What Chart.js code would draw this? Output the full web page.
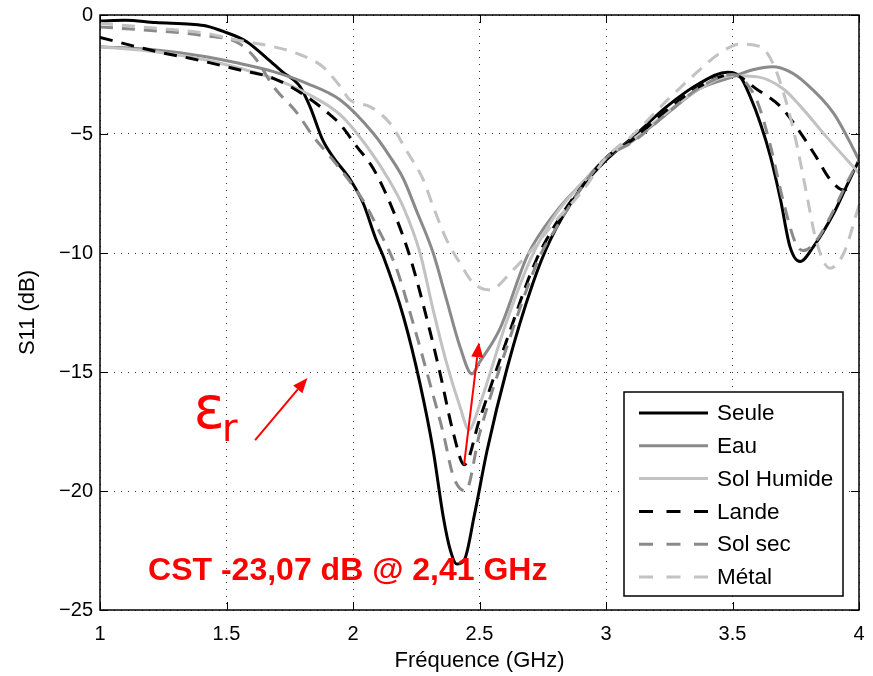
<!DOCTYPE html>
<html>
<head>
<meta charset="utf-8">
<title>S11</title>
<script src="https://cdn.jsdelivr.net/npm/chart.js@4.4.1/dist/chart.umd.min.js"></script>
<style>
  html, body { margin: 0; padding: 0; background: #fff; }
  #wrap { width: 873px; height: 676px; }
</style>
</head>
<body>
<div id="wrap"><canvas id="s11Chart" width="873" height="676"></canvas></div>
<script>
// Axis ticks
const xTicks = [1, 1.5, 2, 2.5, 3, 3.5, 4];
const xTickLabels = ['1', '1.5', '2', '2.5', '3', '3.5', '4'];
const yTicks = [-25, -20, -15, -10, -5, 0];
const yTickLabels = ['\u221225', '\u221220', '\u221215', '\u221210', '\u22125', '0'];

// S11 curves (GHz / dB)
const freqSeule = [1.0, 1.1, 1.22, 1.36, 1.42, 1.49, 1.58, 1.66, 1.72, 1.79, 1.83, 1.88, 1.92, 1.99, 2.04, 2.09, 2.12, 2.2, 2.265, 2.317, 2.357, 2.385, 2.41, 2.44, 2.48, 2.53, 2.61, 2.71, 2.78, 2.9, 3.0, 3.11, 3.24, 3.37, 3.48, 3.53, 3.57, 3.61, 3.65, 3.69, 3.727, 3.767, 3.82, 3.9, 3.95, 4.0];
const dbSeule = [-0.25, -0.22, -0.32, -0.39, -0.46, -0.7, -1.12, -1.82, -2.38, -3.0, -3.85, -5.25, -5.95, -6.93, -7.9, -9.4, -10.15, -12.7, -15.5, -18.3, -21.1, -22.5, -23.07, -22.9, -21.0, -18.3, -14.8, -11.3, -9.45, -7.3, -6.1, -5.1, -3.85, -2.87, -2.41, -2.59, -3.43, -4.55, -5.95, -7.77, -9.73, -10.36, -9.73, -8.33, -7.21, -6.1];

const freqEau = [1.0, 1.22, 1.42, 1.55, 1.685, 1.817, 1.95, 2.08, 2.146, 2.2, 2.25, 2.317, 2.37, 2.423, 2.47, 2.5, 2.58, 2.69, 2.8, 2.92, 3.0, 3.11, 3.24, 3.37, 3.5, 3.58, 3.66, 3.72, 3.79, 3.9, 3.98, 4.0];
const dbEau = [-1.33, -1.47, -1.75, -2.03, -2.38, -2.87, -3.57, -4.97, -5.95, -6.9, -8.2, -10.0, -11.97, -13.94, -15.08, -14.6, -13.2, -10.1, -8.3, -6.9, -6.0, -5.25, -4.15, -3.1, -2.6, -2.3, -2.17, -2.35, -2.87, -4.13, -5.67, -6.1];

const freqSolHumide = [1.0, 1.22, 1.42, 1.553, 1.685, 1.817, 1.95, 2.067, 2.146, 2.2, 2.265, 2.317, 2.37, 2.423, 2.458, 2.5, 2.6, 2.7, 2.8, 2.92, 3.0, 3.11, 3.24, 3.37, 3.5, 3.6, 3.7, 3.77, 3.87, 4.0];
const dbSolHumide = [-1.33, -1.54, -1.89, -2.24, -2.66, -3.29, -4.2, -5.7, -7.0, -8.1, -10.0, -12.4, -14.63, -16.46, -17.42, -16.4, -13.1, -10.3, -8.4, -6.9, -6.0, -5.2, -4.1, -3.1, -2.55, -2.6, -3.1, -3.85, -5.1, -6.65];

const freqLande = [1.0, 1.224, 1.356, 1.553, 1.685, 1.817, 1.91, 1.95, 2.015, 2.08, 2.16, 2.225, 2.29, 2.344, 2.397, 2.44, 2.5, 2.6, 2.72, 2.8, 2.92, 3.0, 3.11, 3.24, 3.37, 3.5, 3.6, 3.69, 3.77, 3.83, 3.885, 3.94, 3.97];
const dbLande = [-0.94, -1.54, -1.82, -2.31, -2.66, -3.43, -4.2, -4.6, -5.53, -6.45, -8.25, -10.15, -12.68, -15.05, -17.58, -18.9, -17.0, -13.9, -10.4, -8.8, -7.0, -6.0, -5.2, -4.0, -3.0, -2.5, -3.15, -3.85, -4.97, -5.95, -6.9, -7.35, -7.2];

const freqSolSec = [1.0, 1.2, 1.4, 1.55, 1.62, 1.685, 1.78, 1.843, 1.91, 2.04, 2.1, 2.17, 2.238, 2.304, 2.357, 2.397, 2.445, 2.5, 2.6, 2.74, 2.8, 2.92, 3.0, 3.11, 3.24, 3.37, 3.5, 3.55, 3.6, 3.65, 3.7, 3.75, 3.78, 3.83, 3.9, 3.95, 4.0];
const dbSolSec = [-0.5, -0.65, -0.85, -1.2, -1.9, -3.0, -4.13, -5.11, -5.95, -7.8, -9.0, -10.6, -12.96, -15.48, -17.58, -19.4, -20.0, -17.6, -14.2, -10.1, -9.0, -7.0, -6.0, -5.3, -4.15, -3.05, -2.5, -2.8, -3.7, -5.5, -7.8, -9.6, -9.9, -9.5, -8.2, -7.1, -6.1];

const freqMetal = [1.0, 1.224, 1.42, 1.54, 1.685, 1.777, 1.88, 1.95, 1.988, 2.067, 2.146, 2.21, 2.278, 2.317, 2.37, 2.423, 2.476, 2.54, 2.633, 2.706, 2.805, 2.91, 3.0, 3.11, 3.24, 3.37, 3.45, 3.53, 3.61, 3.66, 3.71, 3.75, 3.79, 3.83, 3.885, 3.94, 4.0];
const dbMetal = [-0.35, -0.56, -0.77, -1.05, -1.33, -1.61, -2.17, -3.01, -3.57, -3.85, -4.55, -5.67, -6.93, -8.05, -9.45, -10.43, -11.27, -11.55, -10.71, -9.87, -8.6, -7.35, -6.0, -5.0, -3.6, -2.31, -1.6, -1.22, -1.33, -2.03, -3.57, -5.25, -7.35, -9.45, -10.64, -10.0, -8.0];

const seriesNames = ['Seule', 'Eau', 'Sol Humide', 'Lande', 'Sol sec', 'M\u00e9tal'];
const seriesFreq = [freqSeule, freqEau, freqSolHumide, freqLande, freqSolSec, freqMetal];
const seriesDb = [dbSeule, dbEau, dbSolHumide, dbLande, dbSolSec, dbMetal];
const seriesColors = ['#000000', '#8a8a8a', '#c2c2c2', '#000000', '#8a8a8a', '#c2c2c2'];
const seriesDashed = [false, false, false, true, true, true];

// Annotations: arrows [x0, y0, x1, y1] in data units, and labels
const epsArrow = [1.613, -17.86, 1.82, -15.25];
const shiftArrow = [2.439, -18.9, 2.498, -13.75];
const cstLabel = { text: 'CST -23,07 dB @ 2,41 GHz', x: 1.19, y: -23.74 };
const epsLabel = { x: 1.37, y: -17.35 };

const FONT = 'Liberation Sans, Arial, Helvetica, sans-serif';

const datasets = seriesNames.map((name, i) => ({
  label: name,
  data: seriesFreq[i].map((f, k) => ({ x: f, y: seriesDb[i][k] })),
  borderColor: seriesColors[i],
  borderWidth: 3,
  borderDash: seriesDashed[i] ? [13, 9] : [],
  cubicInterpolationMode: 'monotone',
  pointRadius: 0,
  fill: false,
  order: seriesNames.length - i
}));

function drawArrow(ctx, x0, y0, x1, y1) {
  const ang = Math.atan2(y1 - y0, x1 - x0);
  const len = 15, half = 6;
  const bx = x1 - len * Math.cos(ang), by = y1 - len * Math.sin(ang);
  ctx.beginPath();
  ctx.moveTo(x0, y0);
  ctx.lineTo(bx, by);
  ctx.stroke();
  ctx.beginPath();
  ctx.moveTo(x1, y1);
  ctx.lineTo(bx + half * Math.sin(ang), by - half * Math.cos(ang));
  ctx.lineTo(bx - half * Math.sin(ang), by + half * Math.cos(ang));
  ctx.closePath();
  ctx.fill();
}

// box, inward ticks, red notes and the legend
const overlay = {
  id: 'overlay',
  afterDatasetsDraw(chart) {
    const { ctx, chartArea: a, scales: { x, y } } = chart;
    const tl = 8;
    ctx.save();
    ctx.strokeStyle = '#000';
    ctx.lineWidth = 1;
    ctx.setLineDash([]);
    ctx.beginPath();
    xTicks.forEach(v => {
      const px = Math.round(x.getPixelForValue(v)) + 0.5;
      ctx.moveTo(px, a.bottom); ctx.lineTo(px, a.bottom - tl);
      ctx.moveTo(px, a.top); ctx.lineTo(px, a.top + tl);
    });
    yTicks.forEach(v => {
      const py = Math.round(y.getPixelForValue(v)) + 0.5;
      ctx.moveTo(a.left, py); ctx.lineTo(a.left + tl, py);
      ctx.moveTo(a.right, py); ctx.lineTo(a.right - tl, py);
    });
    ctx.stroke();
    ctx.lineWidth = 1.5;
    ctx.strokeRect(a.left, a.top, a.right - a.left, a.bottom - a.top);

    // red annotations
    ctx.strokeStyle = '#ff0000';
    ctx.fillStyle = '#ff0000';
    ctx.lineWidth = 2;
    drawArrow(ctx, x.getPixelForValue(epsArrow[0]), y.getPixelForValue(epsArrow[1]),
      x.getPixelForValue(epsArrow[2]), y.getPixelForValue(epsArrow[3]));
    drawArrow(ctx, x.getPixelForValue(shiftArrow[0]), y.getPixelForValue(shiftArrow[1]),
      x.getPixelForValue(shiftArrow[2]), y.getPixelForValue(shiftArrow[3]));
    ctx.textBaseline = 'alphabetic';
    ctx.textAlign = 'left';
    ctx.font = 'bold 32px ' + FONT;
    ctx.fillText(cstLabel.text, x.getPixelForValue(cstLabel.x), y.getPixelForValue(cstLabel.y));
    const ex = x.getPixelForValue(epsLabel.x), ey = y.getPixelForValue(epsLabel.y);
    ctx.font = '58px DejaVu Sans, sans-serif';
    ctx.fillText('\u03b5', ex, ey);
    const ew = ctx.measureText('\u03b5').width;
    ctx.font = '38px DejaVu Sans, sans-serif';
    ctx.fillText('r', ex + ew - 3, ey + 13);

    // legend
    const lx = 624, ly = 392, lw = 219, lh = 204;
    ctx.fillStyle = '#fff';
    ctx.fillRect(lx, ly, lw, lh);
    ctx.strokeStyle = '#000';
    ctx.lineWidth = 1.5;
    ctx.strokeRect(lx, ly, lw, lh);
    ctx.font = '22.5px ' + FONT;
    ctx.textBaseline = 'middle';
    chart.data.datasets.forEach((ds, i) => {
      const rowY = ly + 21 + i * 32.8;
      ctx.strokeStyle = ds.borderColor;
      ctx.lineWidth = 3;
      ctx.setLineDash(ds.borderDash.length ? [14, 13.5] : []);
      ctx.beginPath();
      ctx.moveTo(lx + 15, rowY);
      ctx.lineTo(lx + 84, rowY);
      ctx.stroke();
      ctx.setLineDash([]);
      ctx.fillStyle = '#000';
      ctx.fillText(ds.label, lx + 93, rowY + 1);
    });
    ctx.restore();
  }
};

const tickFont = { family: FONT, size: 20 };
const titleFont = { family: FONT, size: 22 };

new Chart(document.getElementById('s11Chart'), {
  type: 'line',
  data: { datasets },
  plugins: [overlay],
  options: {
    responsive: false,
    animation: false,
    layout: { padding: { top: 15, right: 14, left: 0, bottom: 0 } },
    plugins: { legend: { display: false }, tooltip: { enabled: false } },
    scales: {
      x: {
        type: 'linear', min: 1, max: 4,
        afterBuildTicks: s => { s.ticks = xTicks.map(v => ({ value: v })); },
        afterFit: s => { s.height = 66; s.paddingLeft = 0; s.paddingRight = 0; },
        grid: { color: 'rgba(0,0,0,0.8)', lineWidth: 1, drawTicks: false },
        border: { display: false, dash: [1, 6] },
        ticks: {
          font: tickFont, color: '#000', padding: 12, maxRotation: 0, autoSkip: false,
          callback: v => xTickLabels[xTicks.findIndex(t => Math.abs(t - v) < 1e-9)]
        },
        title: { display: true, text: 'Fr\u00e9quence (GHz)', font: titleFont, color: '#000', padding: { top: 0, bottom: 2 } }
      },
      y: {
        type: 'linear', min: -25, max: 0,
        afterBuildTicks: s => { s.ticks = yTicks.map(v => ({ value: v })); },
        afterFit: s => { s.width = 100; s.paddingTop = 0; s.paddingBottom = 0; },
        grid: { color: 'rgba(0,0,0,0.8)', lineWidth: 1, drawTicks: false },
        border: { display: false, dash: [1, 6] },
        ticks: {
          font: tickFont, color: '#000', padding: 7, autoSkip: false,
          callback: v => yTickLabels[yTicks.findIndex(t => Math.abs(t - v) < 1e-9)]
        },
        title: { display: true, text: 'S11 (dB)', font: titleFont, color: '#000', padding: { top: 15, bottom: 0 } }
      }
    }
  }
});
</script>
</body>
</html>
